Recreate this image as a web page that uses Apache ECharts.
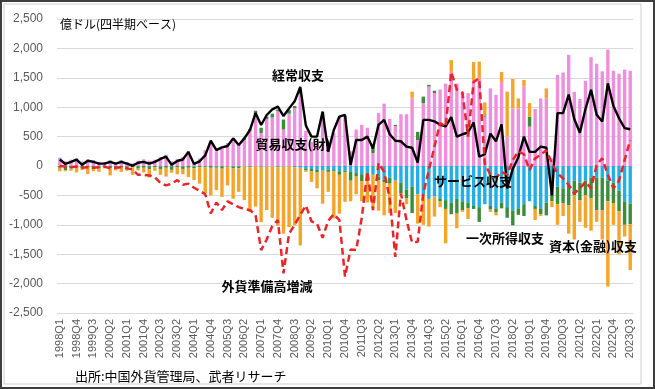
<!DOCTYPE html>
<html><head><meta charset="utf-8">
<script src="https://cdn.jsdelivr.net/npm/echarts@6/dist/echarts.min.js"></script>
<style>
html,body{margin:0;padding:0;background:#fff;}
#chart{position:absolute;left:0;top:0;width:655px;height:389px;}
#frame{position:absolute;left:0;top:0;width:655px;height:389px;box-sizing:border-box;border:2px solid #3d3d3d;pointer-events:none;}
</style></head>
<body>
<div id="chart"></div>
<div id="frame"></div>
<script>
const categories = [
"1998Q1","1998Q2","1998Q3","1998Q4","1999Q1","1999Q2","1999Q3","1999Q4",
"2000Q1","2000Q2","2000Q3","2000Q4","2001Q1","2001Q2","2001Q3","2001Q4",
"2002Q1","2002Q2","2002Q3","2002Q4","2003Q1","2003Q2","2003Q3","2003Q4",
"2004Q1","2004Q2","2004Q3","2004Q4","2005Q1","2005Q2","2005Q3","2005Q4",
"2006Q1","2006Q2","2006Q3","2006Q4","2007Q1","2007Q2","2007Q3","2007Q4",
"2008Q1","2008Q2","2008Q3","2008Q4","2009Q1","2009Q2","2009Q3","2009Q4",
"2010Q1","2010Q2","2010Q3","2010Q4","2011Q1","2011Q2","2011Q3","2011Q4",
"2012Q1","2012Q2","2012Q3","2012Q4","2013Q1","2013Q2","2013Q3","2013Q4",
"2014Q1","2014Q2","2014Q3","2014Q4","2015Q1","2015Q2","2015Q3","2015Q4",
"2016Q1","2016Q2","2016Q3","2016Q4","2017Q1","2017Q2","2017Q3","2017Q4",
"2018Q1","2018Q2","2018Q3","2018Q4","2019Q1","2019Q2","2019Q3","2019Q4",
"2020Q1","2020Q2","2020Q3","2020Q4","2021Q1","2021Q2","2021Q3","2021Q4",
"2022Q1","2022Q2","2022Q3","2022Q4","2023Q1","2023Q2","2023Q3"];

// 貿易収支(財)
const goods = [
130,80,100,130, 70,110,90,70, 60,80,60,90, 70,40,90,100, 90,100,150,180, 80,110,150,250,
40,120,270,380, 250,300,380,420, 360,440,600,880, 560,800,820,930, 620,880,980,1220,
600,410,390,890, 310,560,830,850, 250,620,700,650, 220,900,1060,800, 680,880,880,1150,
440,1070,1350,1240, 1300,1400,1600,1400, 1260,1240,1460,1490, 840,1320,1210,1430,
500,980,980,1350, 670,970,1150,1150, 130,1550,1590,1890, 1260,1140,1450,1850,
1740,1610,1980,1620, 1570,1640,1620];

// サービス収支
const services = [
10,-10,5,-10, 5,-5,10,-10, 5,15,-5,10, -10,5,-5,10, -5,5,-10,10, -5,5,-10,5,
-10,5,-10,10, -10,-5,10,-15, -10,5,-20,10, -15,-10,10,-20, -10,10,-20,-30,
-40,-50,-60,-80, -60,-70,-90,-80, -100,-120,-140,-110, -150,-180,-230,-200, -250,-280,-400,-350,
-480,-500,-560,-520, -550,-580,-620,-560, -600,-620,-680,-700, -650,-680,-720,-620,
-700,-760,-720,-650, -600,-680,-720,-620, -450,-350,-380,-320, -250,-280,-250,-200,
-200,-200,-250,-280, -420,-600,-640];

// 一次所得収支
const primaryIncome = [
-30,-60,-40,-10, -40,-20,-50,-30, -20,-40,-20,-30, -30,-20,-40,-30, -50,-20,-40,-30, -60,-20,-40,-30,
-30,-20,-10,-30, -20,-40,-10,-20, -30,40,30,50, 90,40,60,30, 170,60,40,50,
-30,-40,-50,20, -40,-20,-60,-30, -150,-60,-120,-50, 110,-60,-50,-100, 20,-180,-150,-450,
140,110,30,40, -50,-150,-200,-250, -150,-100,-50,-250, 20,-60,-70,-100,
-180,-250,-110,-200, 170,-50,-100,-220, -150,-300,-250,-350, -250,-300,-250,-350,
-550,-550,-350,-350, -350,-400,-350];

// 資本(金融)収支
const capital = [
-60,-20,-40,-90, -30,-110,-40,-60, -20,-120,-50,-70, -40,-130,-30,-80, -140,-60,-100,-150, -50,-120,-90,-160,
-200,-280,-440,-470, -380,-480,-320,-520, -400,-580,-760,-690, -940,-740,-880,-1000, -1140,-1040,-990,-1320,
-30,-180,-270,-560, -340,-800,-660,-500, -350,-300,-340,-460, -550,-520,-560,-500, -550,-20,-100,115,
-500,-500,-470,-340, -100,-585,200,-250, -30,-180,310,285, 220,-40,-50,170,
765,500,170,113, 230,-190,-30,170, -100,-350,-220,-480, -750,-370,-550,-550,
-200,-500,-1450,-370, -730,-200,-780];

// 経常収支
const currentAccount = [
110,35,70,110, 20,90,70,40, 40,70,40,70, 40,5,55,70, 40,70,120,160, 20,85,110,240,
35,80,180,430, 270,317,340,470, 357,470,612,900, 697,867,963,1009, 850,980,1100,1345,
690,500,500,925, 244,613,841,869, 17,443,443,500, 300,700,784,540, 430,420,330,310,
60,784,784,760, 700,675,830,500, 540,570,740,160, 200,550,420,710,
-380,-50,150,500, 240,240,330,310, -500,900,900,1215, 800,565,970,1295,
870,755,1405,1020, 812,645,625];

// 外貨準備高増減
const reserves = [
0,-10,-20,-10, -30,-20,-30,-20, -10,-40,-30,-20, -40,-60,-150,-150, -160,-190,-290,-330, -300,-240,-320,-300,
-370,-420,-480,-805, -620,-750,-600,-650, -700,-730,-750,-830, -1430,-1250,-1020,-920, -1826,-1150,-1000,-830,
-670,-940,-980,-1220, -930,-820,-920,-1880, -1420,-1430,-880,-100, -750,50,-100,-550, -1545,-470,-920,-1300,
-1290,-470,-70,330, 730,670,1600,1300, 1250,500,1430,1490, 40,-150,-200,-100,
-150,100,250,200, -70,130,190,270, 50,-125,-210,-320, -470,-380,-270,-380,
20,130,-150,-380, -250,100,440];

const jp = '"Noto Sans CJK JP", sans-serif';
const annotations = [
  {text:'億ドル(四半期ベース)', x:60, y:24, align:'left', bold:false, size:12},
  {text:'経常収支', x:298, y:75, align:'center', bold:true, size:13},
  {text:'貿易収支(財)', x:293, y:144, align:'center', bold:true, size:13},
  {text:'サービス収支', x:473, y:181, align:'center', bold:true, size:13},
  {text:'外貨準備高増減', x:267, y:286, align:'center', bold:true, size:13},
  {text:'一次所得収支', x:505, y:238, align:'center', bold:true, size:13},
  {text:'資本(金融)収支', x:593, y:246, align:'center', bold:true, size:13},
  {text:'出所:中国外貨管理局、武者リサーチ', x:75, y:376, align:'left', bold:false, size:13}
];

const chart = echarts.init(document.getElementById('chart'));
const barW = 3.4;
const option = {
  animation: false,
  backgroundColor: '#fff',
  grid: {left: 57, right: 22, top: 19, bottom: 76},
  xAxis: {
    type: 'category', data: categories, boundaryGap: true,
    axisLine: {show: false, onZero: false}, axisTick: {show: false},
    axisLabel: {interval: 2, rotate: 90, fontSize: 11, color: '#595959',
      fontFamily: '"Liberation Sans", Arial, sans-serif', margin: 6},
    splitLine: {show: false}
  },
  yAxis: {
    type: 'value', min: -2500, max: 2500, interval: 500,
    axisLine: {show: false}, axisTick: {show: false},
    axisLabel: {formatter: v => v.toLocaleString('en-US'), fontSize: 12, color: '#595959',
      fontFamily: '"Liberation Sans", Arial, sans-serif', margin: 14},
    splitLine: {lineStyle: {color: '#d9d9d9', width: 1}}
  },
  series: [
    {name:'貿易収支(財)', type:'bar', stack:'bop', stackStrategy:'samesign', data: goods, barWidth: barW, itemStyle:{color:'#ee8fdd'}},
    {name:'サービス収支', type:'bar', stack:'bop', stackStrategy:'samesign', data: services, barWidth: barW, itemStyle:{color:'#23aee6'}},
    {name:'一次所得収支', type:'bar', stack:'bop', stackStrategy:'samesign', data: primaryIncome, barWidth: barW, itemStyle:{color:'#3b8c3b'}},
    {name:'資本(金融)収支', type:'bar', stack:'bop', stackStrategy:'samesign', data: capital, barWidth: barW, itemStyle:{color:'#f4a428'}},
    {name:'経常収支', type:'line', data: currentAccount, symbol:'none', z:5, lineStyle:{color:'#000', width:2.4}},
    {name:'外貨準備高増減', type:'line', data: reserves, symbol:'none', z:6, lineStyle:{color:'#e8262a', width:2.5, type:[7,4]}}
  ],
  graphic: [
    {type:'rect', shape:{x:4, y:4, width:637, height:380}, style:{fill:'none', stroke:'#cfcfcf', lineWidth:1}, z:-1, silent:true}
  ].concat(annotations.map(a => ({
    type:'text', x:a.x, y:a.y, z:100, silent:true,
    style:{text:a.text, fill:'#000', textAlign:a.align, textVerticalAlign:'middle',
      font:(a.bold ? 'bold ' : '') + a.size + 'px ' + jp}
  })))
};
chart.setOption(option);
</script>
</body></html>
